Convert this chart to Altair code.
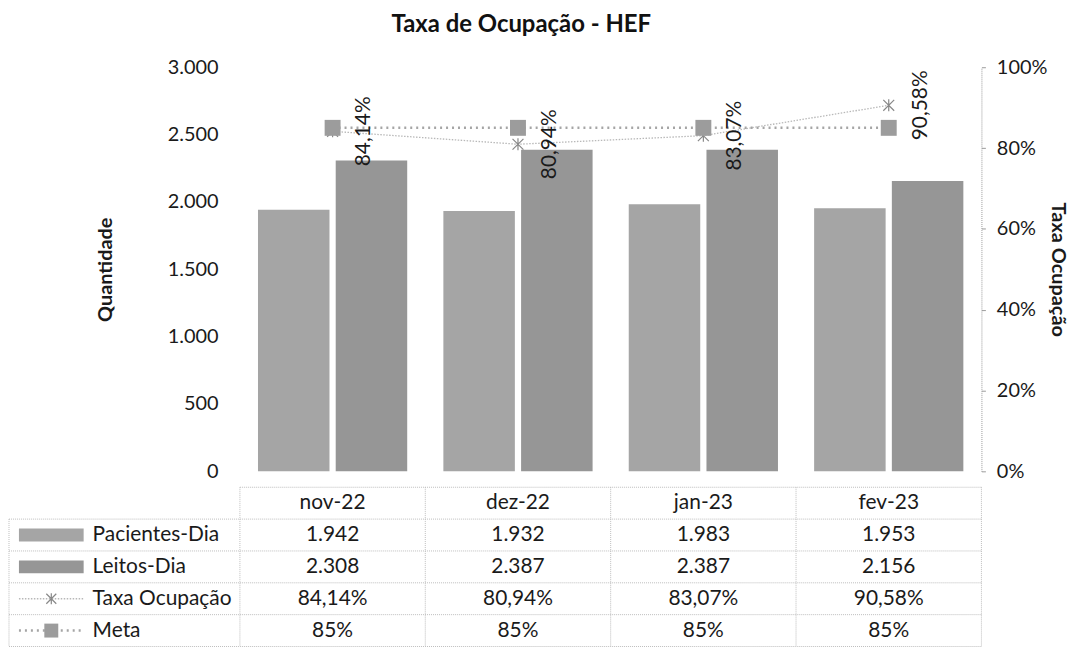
import altair as alt
import pandas as pd

# ---------------- data ----------------
meses = ["nov-22", "dez-22", "jan-23", "fev-23"]
pacientes_dia = [1942, 1932, 1983, 1953]
leitos_dia = [2308, 2387, 2387, 2156]
taxa_ocupacao = [0.8414, 0.8094, 0.8307, 0.9058]
meta = [0.85, 0.85, 0.85, 0.85]
series = ["Pacientes-Dia", "Leitos-Dia", "Taxa Ocupação", "Meta"]
eixo_qtd = [0, 500, 1000, 1500, 2000, 2500, 3000]
eixo_pct = [0, 0.2, 0.4, 0.6, 0.8, 1.0]
titulo = "Taxa de Ocupação - HEF"

FONT = "Lato"
TXT = "#1a1a1a"
W = 745          # plot width (shared by chart and table)
H = 406          # plot height
ROW = 32         # table row height
CAB = "_cab"     # header row key
linhas = [CAB] + series
H_T = ROW * len(linhas)
LBL_W = 232      # width of the row-label column of the table
GRID = "#bdbdbd"
FS = 21          # table / label font size
AFS = 20         # axis font size


def fmt_int(v):
    return f"{v:,}".replace(",", ".")


def fmt_pct(v, d):
    return f"{v * 100:.{d}f}%".replace(".", ",")


bars_df = pd.DataFrame({
    "mes": meses * 2,
    "serie": [series[0]] * len(meses) + [series[1]] * len(meses),
    "valor": pacientes_dia + leitos_dia,
})
taxa_df = pd.DataFrame({"mes": meses, "pct": taxa_ocupacao,
                        "rotulo": [fmt_pct(v, 2) for v in taxa_ocupacao]})
meta_df = pd.DataFrame({"mes": meses, "pct": meta})

cel_df = pd.DataFrame({
    "mes": meses * 5,
    "serie": [CAB] * 4 + [series[0]] * 4 + [series[1]] * 4 + [series[2]] * 4 + [series[3]] * 4,
    "texto": meses
    + [fmt_int(v) for v in pacientes_dia]
    + [fmt_int(v) for v in leitos_dia]
    + [fmt_pct(v, 2) for v in taxa_ocupacao]
    + [fmt_pct(v, 0) for v in meta],
})
rows_df = pd.DataFrame({"serie": series})
cab_df = pd.DataFrame({"serie": [CAB]})
cols_df = pd.DataFrame({"mes": meses})

# ---------------- top chart ----------------
x_top = alt.X("mes:N", sort=meses, axis=None,
              scale=alt.Scale(domain=meses, paddingInner=0.195, paddingOuter=0.0975))

bars = alt.Chart(bars_df).mark_bar().encode(
    x=x_top,
    xOffset=alt.XOffset("serie:N", sort=series[:2],
                        scale=alt.Scale(domain=series[:2], paddingInner=0.08, paddingOuter=0)),
    y=alt.Y("valor:Q", scale=alt.Scale(domain=[0, 3000], nice=False),
            axis=alt.Axis(title="Quantidade", values=eixo_qtd, orient="left",
                          labelExpr="replace(format(datum.value, ','), ',', '.')",
                          grid=False, domain=False, ticks=False,
                          labelPadding=22, titlePadding=52,
                          labelFont=FONT, titleFont=FONT, labelFontSize=AFS, titleFontSize=20,
                          titleFontWeight="bold", labelColor=TXT, titleColor=TXT)),
    color=alt.Color("serie:N", scale=alt.Scale(domain=series[:2], range=["#a5a5a5", "#969696"]),
                    legend=None),
)

y_pct = alt.Y("pct:Q", scale=alt.Scale(domain=[0, 1], nice=False),
              axis=alt.Axis(title="Taxa Ocupação", orient="right", values=eixo_pct, format=".0%",
                            grid=False, domain=True, domainColor="#9a9a9a", domainDash=[1, 1],
                            ticks=True, tickSize=4, tickColor="#9a9a9a",
                            labelPadding=11, titlePadding=1,
                            labelFont=FONT, titleFont=FONT, labelFontSize=AFS, titleFontSize=20,
                            titleFontWeight="bold", labelColor=TXT, titleColor=TXT))
x_line = alt.X("mes:N", sort=meses, axis=None)

X_PATH = "M-1,-1L1,1M-1,1L1,-1M0,-1.1L0,1.1"

taxa_line = alt.Chart(taxa_df).mark_line(color="#b8b8b8", strokeWidth=1.3, strokeDash=[1.5, 1.5]).encode(
    x=x_line, y=y_pct)
taxa_pts = alt.Chart(taxa_df).mark_point(shape=X_PATH, size=120, filled=False, color="#888888",
                                         strokeWidth=1.2, opacity=1).encode(x=x_line, y=y_pct)
meta_line = alt.Chart(meta_df).mark_line(color="#a5a5a5", strokeWidth=2.5, strokeDash=[2, 4]).encode(
    x=x_line, y=y_pct)
meta_pts = alt.Chart(meta_df).mark_square(size=256, color="#9c9c9c", opacity=1).encode(x=x_line, y=y_pct)
rotulos = alt.Chart(taxa_df).mark_text(angle=270, dy=32, fontSize=FS, font=FONT, color=TXT,
                                       align="center", baseline="middle").encode(
    x=x_line, y=y_pct, text="rotulo:N")

top = alt.layer(
    bars,
    alt.layer(taxa_line, meta_line, taxa_pts, meta_pts, rotulos),
).resolve_scale(y="independent").properties(width=W, height=H)

# ---------------- data table ----------------
x_tab = alt.X("mes:N", sort=meses, axis=None,
              scale=alt.Scale(domain=meses, paddingInner=0, paddingOuter=0))
y_tab = alt.Y("serie:N", sort=linhas, axis=None,
              scale=alt.Scale(domain=linhas, paddingInner=0, paddingOuter=0))

txt_cells = alt.Chart(cel_df).mark_text(fontSize=FS, font=FONT, color=TXT, baseline="middle").encode(
    x=x_tab, y=y_tab, text="texto:N")

row_labels = alt.Chart(rows_df).mark_text(fontSize=FS, font=FONT, color=TXT, align="left",
                                          baseline="middle").encode(
    x=alt.value(-148), y=y_tab, text="serie:N")

# horizontal lines
h_rows = alt.Chart(rows_df).mark_rule(color=GRID, strokeDash=[1, 1]).encode(
    y=alt.Y("serie:N", sort=linhas, axis=None, bandPosition=0,
            scale=alt.Scale(domain=linhas, paddingInner=0, paddingOuter=0)),
    x=alt.value(-LBL_W), x2=alt.value(W))
h_cab = alt.Chart(cab_df).mark_rule(color=GRID, strokeDash=[1, 1]).encode(
    y=alt.Y("serie:N", sort=linhas, axis=None, bandPosition=0,
            scale=alt.Scale(domain=linhas, paddingInner=0, paddingOuter=0)),
    x=alt.value(0), x2=alt.value(W))
h_bottom = alt.Chart(rows_df).transform_filter(alt.datum.serie == series[-1]).mark_rule(
    color=GRID, strokeDash=[1, 1]).encode(
    y=alt.Y("serie:N", sort=linhas, axis=None, bandPosition=1,
            scale=alt.Scale(domain=linhas, paddingInner=0, paddingOuter=0)),
    x=alt.value(-LBL_W), x2=alt.value(W))
# vertical lines
v_cols = alt.Chart(cols_df).mark_rule(color=GRID, strokeDash=[1, 1]).encode(
    x=alt.X("mes:N", sort=meses, axis=None, bandPosition=0,
            scale=alt.Scale(domain=meses, paddingInner=0, paddingOuter=0)),
    y=alt.value(0), y2=alt.value(H_T))
v_right = alt.Chart(cols_df).transform_filter(alt.datum.mes == meses[-1]).mark_rule(
    color=GRID, strokeDash=[1, 1]).encode(
    x=alt.X("mes:N", sort=meses, axis=None, bandPosition=1,
            scale=alt.Scale(domain=meses, paddingInner=0, paddingOuter=0)),
    y=alt.value(0), y2=alt.value(H_T))
v_left = alt.Chart(cab_df).mark_rule(color=GRID, strokeDash=[1, 1]).encode(
    x=alt.value(-LBL_W), y=alt.value(ROW), y2=alt.value(H_T))

# legend keys inside the table
GX1, GX2, GXC = -LBL_W + 10, -LBL_W + 75, -LBL_W + 42.5
key_pac = alt.Chart(rows_df).transform_filter(alt.datum.serie == series[0]).mark_point(
    shape="M-2.5,-0.5H2.5V0.5H-2.5Z", size=676, filled=True, color="#a5a5a5", opacity=1,
    strokeWidth=0).encode(x=alt.value(GXC), y=y_tab)
key_lei = alt.Chart(rows_df).transform_filter(alt.datum.serie == series[1]).mark_point(
    shape="M-2.5,-0.5H2.5V0.5H-2.5Z", size=676, filled=True, color="#969696", opacity=1,
    strokeWidth=0).encode(x=alt.value(GXC), y=y_tab)
key_taxa_l = alt.Chart(rows_df).transform_filter(alt.datum.serie == series[2]).mark_rule(
    color="#b8b8b8", strokeWidth=1.3, strokeDash=[1.5, 1.5]).encode(
    x=alt.value(GX1), x2=alt.value(GX2), y=y_tab)
key_taxa_p = alt.Chart(rows_df).transform_filter(alt.datum.serie == series[2]).mark_point(
    shape=X_PATH, size=100, filled=False, color="#888888", strokeWidth=1.2, opacity=1).encode(
    x=alt.value(GXC), y=y_tab)
key_meta_l = alt.Chart(rows_df).transform_filter(alt.datum.serie == series[3]).mark_rule(
    color="#a5a5a5", strokeWidth=2.5, strokeDash=[2, 4]).encode(
    x=alt.value(GX1), x2=alt.value(GX2), y=y_tab)
key_meta_p = alt.Chart(rows_df).transform_filter(alt.datum.serie == series[3]).mark_square(
    size=196, color="#9c9c9c", opacity=1).encode(x=alt.value(GXC), y=y_tab)

table = alt.layer(
    h_rows, h_cab, h_bottom, v_cols, v_right, v_left,
    key_pac, key_lei, key_taxa_l, key_taxa_p, key_meta_l, key_meta_p,
    row_labels, txt_cells,
).properties(width=W, height=H_T)

chart = alt.vconcat(top, table, spacing=5).resolve_scale(
    x="independent", y="independent", color="independent"
).properties(
    title=alt.TitleParams(titulo, font=FONT, fontSize=24, fontWeight="bold", color="#111111",
                          anchor="middle", dx=-17, offset=20),
    padding={"top": 4, "left": 0, "right": 4, "bottom": 0},
).configure_view(stroke=None)

chart.save("out.html", embed_options={"renderer": "svg", "actions": False})
